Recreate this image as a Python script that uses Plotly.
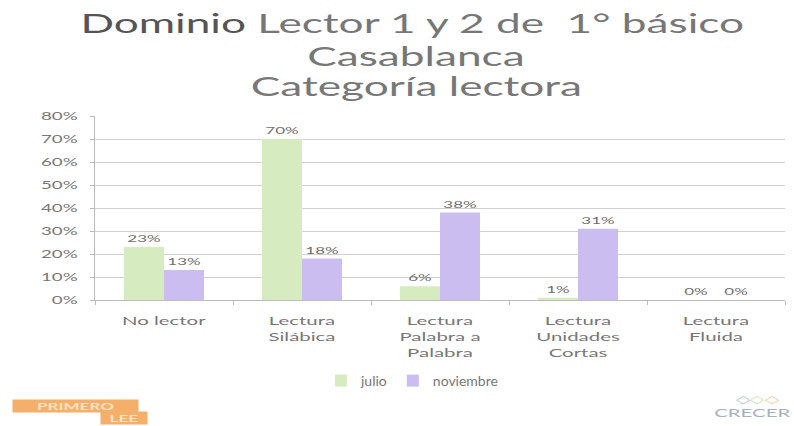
import plotly.graph_objects as go

categorias = ["No lector", "Lectura<br>Silábica", "Lectura<br>Palabra a<br>Palabra",
              "Lectura<br>Unidades<br>Cortas", "Lectura<br>Fluida"]
julio = [0.23, 0.70, 0.06, 0.01, 0.00]
noviembre = [0.13, 0.18, 0.38, 0.31, 0.00]
julio_txt = ["23%", "70%", "6%", "1%", "0%"]
noviembre_txt = ["13%", "18%", "38%", "31%", "0%"]
titulo = ["<span style='color:#555555'>Dominio</span> Lector 1 y 2 de  1° básico",
          "Casablanca", "Categoría lectora"]

FONT = "Lato"
STRETCH = 1.7
W, H = 794, 426
L, R, T, B = 95, 9, 116, 126
PW, PH = W - L - R, H - T - B


def px(x):
    return (x - L) / PW


def py(y):
    return (H - B - y) / PH


fig = go.Figure()
fig.add_trace(go.Bar(name="julio", x=categorias, y=julio, text=julio_txt,
                     textposition="outside", marker_color="#d6ebc0",
                     marker_line_width=0, cliponaxis=False,
                     textfont=dict(size=10, color="#707070")))
fig.add_trace(go.Bar(name="noviembre", x=categorias, y=noviembre, text=noviembre_txt,
                     textposition="outside", marker_color="#cbbdf0",
                     marker_line_width=0, cliponaxis=False,
                     textfont=dict(size=10, color="#707070")))

fig.update_layout(
    width=W, height=H,
    margin=dict(l=L, r=R, t=T, b=B),
    paper_bgcolor="white", plot_bgcolor="white",
    barmode="group", bargap=0.42, bargroupgap=0,
    font=dict(family=FONT, color="#777777"),
    legend=dict(orientation="h", x=px(412), xanchor="center",
                y=py(381), yanchor="middle",
                font=dict(size=14, color="#777777"), itemwidth=30,
                traceorder="normal"),
    yaxis=dict(range=[0, 0.8], dtick=0.1, tickformat=".0%",
               showgrid=True, gridcolor="#d0d0d0", gridwidth=1,
               showline=True, linecolor="#bbbbbb", ticks="outside",
               tickcolor="#bbbbbb", ticklen=4, ticklabelstandoff=10,
               tickfont=dict(size=11, color="#777777"), zeroline=False),
    xaxis=dict(showline=True, linecolor="#bbbbbb", ticks="outside",
               tickson="boundaries", tickcolor="#bbbbbb", ticklen=4,
               ticklabelstandoff=10,
               tickfont=dict(size=12, color="#777777")),
)

# title lines
for txt, cx, cy in zip(titulo, [412, 416, 416], [23, 56, 86]):
    fig.add_annotation(text=txt, xref="paper", yref="paper",
                       x=px(cx), y=py(cy), xanchor="center", yanchor="middle",
                       showarrow=False,
                       font=dict(family=FONT, size=26, color="#777777"))

# logos (as text)
fig.add_annotation(text="<b>PRIMERO</b>", xref="paper", yref="paper",
                   x=px(12), y=py(406), xanchor="left", yanchor="middle",
                   width=125, height=12, showarrow=False, bgcolor="#f4b06a",
                   borderpad=0,
                   font=dict(family=FONT, size=10, color="#fde2c2"))
fig.add_annotation(text="<b>LEE</b>", xref="paper", yref="paper",
                   x=px(100), y=py(418), xanchor="left", yanchor="middle",
                   width=46, height=12, showarrow=False, bgcolor="#f4b06a",
                   borderpad=0,
                   font=dict(family=FONT, size=10, color="#fde2c2"))
fig.add_annotation(text="CRECER", xref="paper", yref="paper",
                   x=px(752), y=py(412), xanchor="center", yanchor="middle",
                   showarrow=False,
                   font=dict(family=FONT, size=12, color="#a9b0c2"))
fig.add_annotation(text="<span style='color:#b5bccc'>◇</span><span style='color:#c9e3a8'>◇</span>"
                        "<span style='color:#f7c58f'>◇</span>",
                   xref="paper", yref="paper",
                   x=px(758), y=py(398), xanchor="center", yanchor="middle",
                   showarrow=False, font=dict(size=11, color="#b5bccc"))

post = """
document.body.style.margin = '0';
var gd = document.getElementById('{plot_id}');
var S = %s;
function stretchText() {
  gd.querySelectorAll('text').forEach(function (t) {
    if (t.closest('.legend')) return;
    var tr = t.getAttribute('transform') || '';
    if (tr.indexOf('scale(' + S + ',1)') >= 0) return;
    var bb;
    try { bb = t.getBBox(); } catch (e) { return; }
    if (!bb || !bb.width) return;
    var a = t.getAttribute('text-anchor') || 'start';
    var ax = a === 'middle' ? bb.x + bb.width / 2 : (a === 'end' ? bb.x + bb.width : bb.x);
    t.setAttribute('transform', tr + ' translate(' + ax + ',0) scale(' + S + ',1) translate(' + (-ax) + ',0)');
  });
}
stretchText();
gd.on('plotly_afterplot', stretchText);
setTimeout(stretchText, 50);
""" % STRETCH

fig.write_html("out.html", post_script=post, config={"displayModeBar": False})
